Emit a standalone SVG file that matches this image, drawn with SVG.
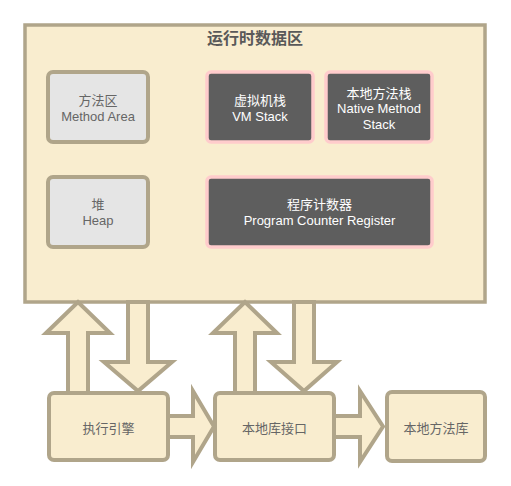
<svg xmlns="http://www.w3.org/2000/svg" width="511" height="486" viewBox="0 0 511 486">
<style>
text{font-family:"Liberation Sans","Noto Sans CJK SC",Arial,sans-serif;font-size:13px;text-anchor:middle}
.cont{fill:#f9edcf;stroke:#b0a58a;stroke-width:3.5}
.light{fill:#e5e5e5;stroke:#b0a58a;stroke-width:4}
.dark{fill:#5e5e5e;stroke:#ffcccc;stroke-width:3.5}
.bot{fill:#f9edcf;stroke:#b0a58a;stroke-width:4}
.arr{fill:#f9edcf;stroke:#b0a58a;stroke-width:4;stroke-linejoin:miter}
.g{fill:#666666}
.w{fill:#ffffff}
.title{font-size:16px;font-weight:bold;fill:#595959}
</style>
<rect width="511" height="486" fill="#ffffff"/>
<g id="runtime-data-area">
<rect class="cont" x="25" y="25" width="460" height="277"/>
<text class="title" x="255" y="44">运行时数据区</text>
</g>
<g id="method-area">
<rect class="light" x="48" y="72" width="100" height="70" rx="5"/>
<text class="g" x="98" y="105">方法区</text>
<text class="g" x="98" y="121">Method Area</text>
</g>
<g id="heap">
<rect class="light" x="48" y="177" width="100" height="70" rx="5"/>
<text class="g" x="98" y="209">堆</text>
<text class="g" x="98" y="225">Heap</text>
</g>
<g id="vm-stack">
<rect class="dark" x="207" y="72" width="106" height="70" rx="4"/>
<text class="w" x="260" y="105">虚拟机栈</text>
<text class="w" x="260" y="121">VM Stack</text>
</g>
<g id="native-method-stack">
<rect class="dark" x="326" y="72" width="106" height="70" rx="4"/>
<text class="w" x="379" y="97.5">本地方法栈</text>
<text class="w" x="379" y="113">Native Method</text>
<text class="w" x="379" y="128.5">Stack</text>
</g>
<g id="program-counter">
<rect class="dark" x="207" y="177" width="225" height="70" rx="4"/>
<text class="w" x="319.5" y="209">程序计数器</text>
<text class="w" x="319.5" y="225">Program Counter Register</text>
</g>
<g id="connectors">
<polygon class="arr" points="68,393 68,333 46,333 78,302 110,333 88,333 88,393"/>
<polygon class="arr" points="128,302 128,362 104,362 138,391 172,362 148,362 148,302"/>
<polygon class="arr" points="235,393 235,333 213,333 245,302 277,333 255,333 255,393"/>
<polygon class="arr" points="294,302 294,362 271,362 304,391 337,362 314,362 314,302"/>
<polygon class="arr" points="166,416 193,416 193,391 214,426.5 193,462 193,437 166,437"/>
<polygon class="arr" points="332,416 360,416 360,391 383,426.5 360,462 360,437 332,437"/>
</g>
<g id="execution-engine">
<rect class="bot" x="49" y="393" width="119" height="67" rx="5"/>
<text class="g" x="108.5" y="433">执行引擎</text>
</g>
<g id="native-interface">
<rect class="bot" x="215" y="393" width="119" height="67" rx="5"/>
<text class="g" x="274.5" y="433">本地库接口</text>
</g>
<g id="native-library">
<rect class="bot" x="387" y="392" width="98" height="69" rx="5"/>
<text class="g" x="436" y="433">本地方法库</text>
</g>
</svg>
